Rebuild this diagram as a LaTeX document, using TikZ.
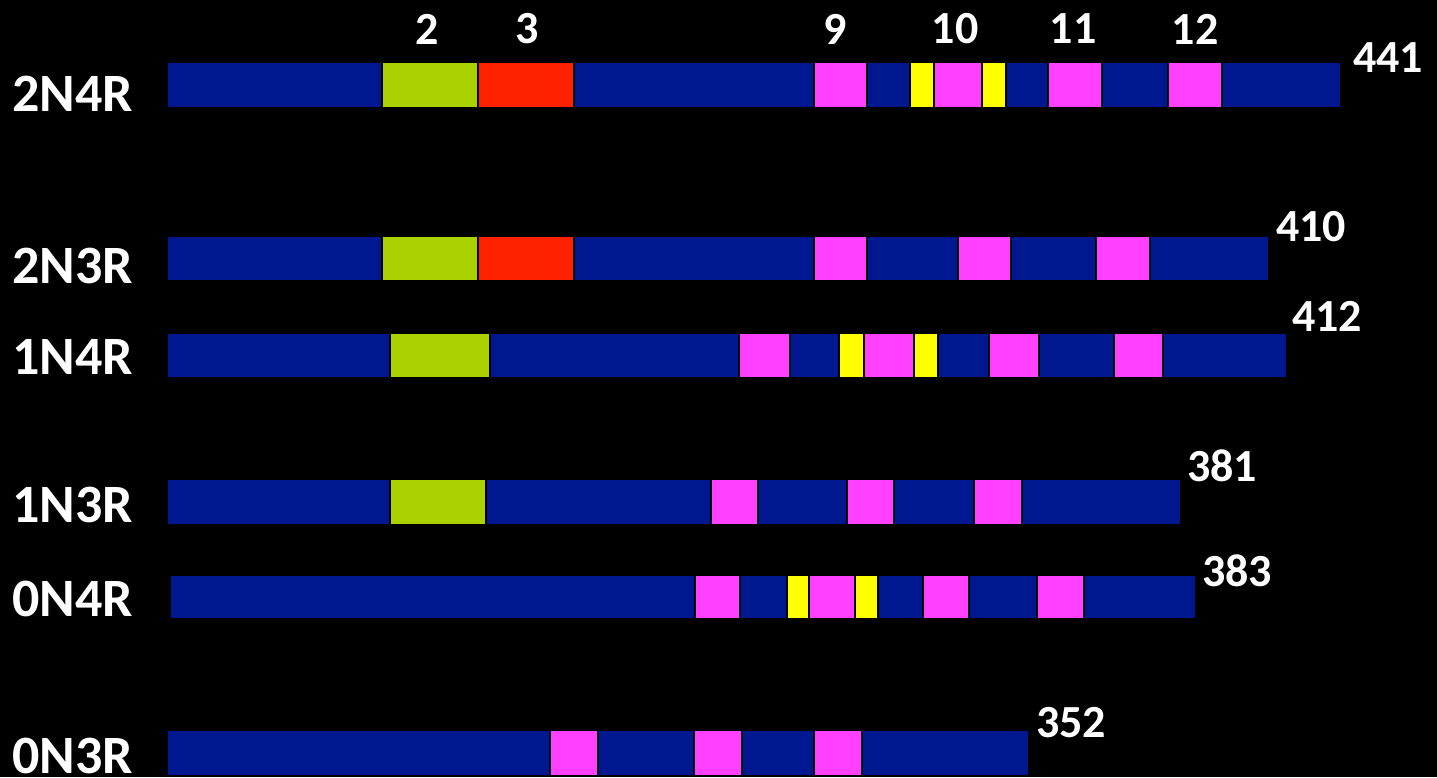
\documentclass[tikz,border=0pt]{standalone}
\usepackage{fontspec}
\setmainfont{Carlito}
\definecolor{domblue}{RGB}{0,24,143}
\definecolor{domgreen}{RGB}{170,210,0}
\definecolor{domred}{RGB}{255,34,0}
\definecolor{dompink}{RGB}{255,64,255}
\definecolor{domyellow}{RGB}{255,255,0}
\tikzset{
  seg/.style={draw=black, line width=1.2pt},
  rowlab/.style={text=white, font=\fontsize{54}{60}\selectfont\bfseries, anchor=east, inner sep=0pt},
  lenlab/.style={text=white, font=\fontsize{46}{52}\selectfont\bfseries, anchor=west, inner sep=0pt},
  toplab/.style={text=white, font=\fontsize{46}{52}\selectfont\bfseries, inner sep=0pt}
}
\begin{document}
\begin{tikzpicture}[x=1pt,y=-1pt]
\fill[black] (0,0) rectangle (1437,777);
\useasboundingbox (0,0) rectangle (1437,777);
% 2N4R:
\foreach \a/\b/\c in {167/382/domblue,382/478/domgreen,478/574/domred,574/814/domblue,814/867/dompink,867/910/domblue,910/934/domyellow,934/982/dompink,982/1006/domyellow,1006/1048/domblue,1048/1102/dompink,1102/1168/domblue,1168/1222/dompink,1222/1341/domblue}
  \draw[seg, fill=\c] (\a,62) rectangle (\b,108);
% 2N3R:
\foreach \a/\b/\c in {167/382/domblue,382/478/domgreen,478/574/domred,574/814/domblue,814/867/dompink,867/958/domblue,958/1011/dompink,1011/1096/domblue,1096/1150/dompink,1150/1269/domblue}
  \draw[seg, fill=\c] (\a,236) rectangle (\b,281);
% 1N4R:
\foreach \a/\b/\c in {167/390/domblue,390/490/domgreen,490/739/domblue,739/790/dompink,790/839/domblue,839/864/domyellow,864/914/dompink,914/938/domyellow,938/989/domblue,989/1039/dompink,1039/1114/domblue,1114/1163/dompink,1163/1287/domblue}
  \draw[seg, fill=\c] (\a,333) rectangle (\b,378);
% 1N3R:
\foreach \a/\b/\c in {167/390/domblue,390/486/domgreen,486/711/domblue,711/758/dompink,758/847/domblue,847/894/dompink,894/974/domblue,974/1022/dompink,1022/1181/domblue}
  \draw[seg, fill=\c] (\a,479) rectangle (\b,525);
% 0N4R:
\foreach \a/\b/\c in {170/695/domblue,695/740/dompink,740/787/domblue,787/809/domyellow,809/855/dompink,855/878/domyellow,878/923/domblue,923/969/dompink,969/1037/domblue,1037/1084/dompink,1084/1196/domblue}
  \draw[seg, fill=\c] (\a,575) rectangle (\b,619);
% 0N3R:
\foreach \a/\b/\c in {167/550/domblue,550/598/dompink,598/694/domblue,694/742/dompink,742/814/domblue,814/862/dompink,862/1029/domblue}
  \draw[seg, fill=\c] (\a,730) rectangle (\b,776);
% row names:
\node[rowlab] (r2N4R) at (133,94) {2N4R};
\node[rowlab] (r2N3R) at (133,266) {2N3R};
\node[rowlab] (r1N4R) at (133,357) {1N4R};
\node[rowlab] (r1N3R) at (133,505) {1N3R};
\node[rowlab] (r0N4R) at (133,599) {0N4R};
\node[rowlab] (r0N3R) at (133,756) {0N3R};
% lengths:
\node[lenlab] (l441) at (1353,58) {441};
\node[lenlab] (l410) at (1276,227) {410};
\node[lenlab] (l412) at (1292,316) {412};
\node[lenlab] (l381) at (1187,466) {381};
\node[lenlab] (l383) at (1202,571) {383};
\node[lenlab] (l352) at (1036,723) {352};
% domain numbers:
\foreach \x/\t in {427/2,527/3,835/9,955/10,1073/11,1195/12}
  \node[toplab] (d\t) at (\x,29) {\t};
\end{tikzpicture}
\end{document}
